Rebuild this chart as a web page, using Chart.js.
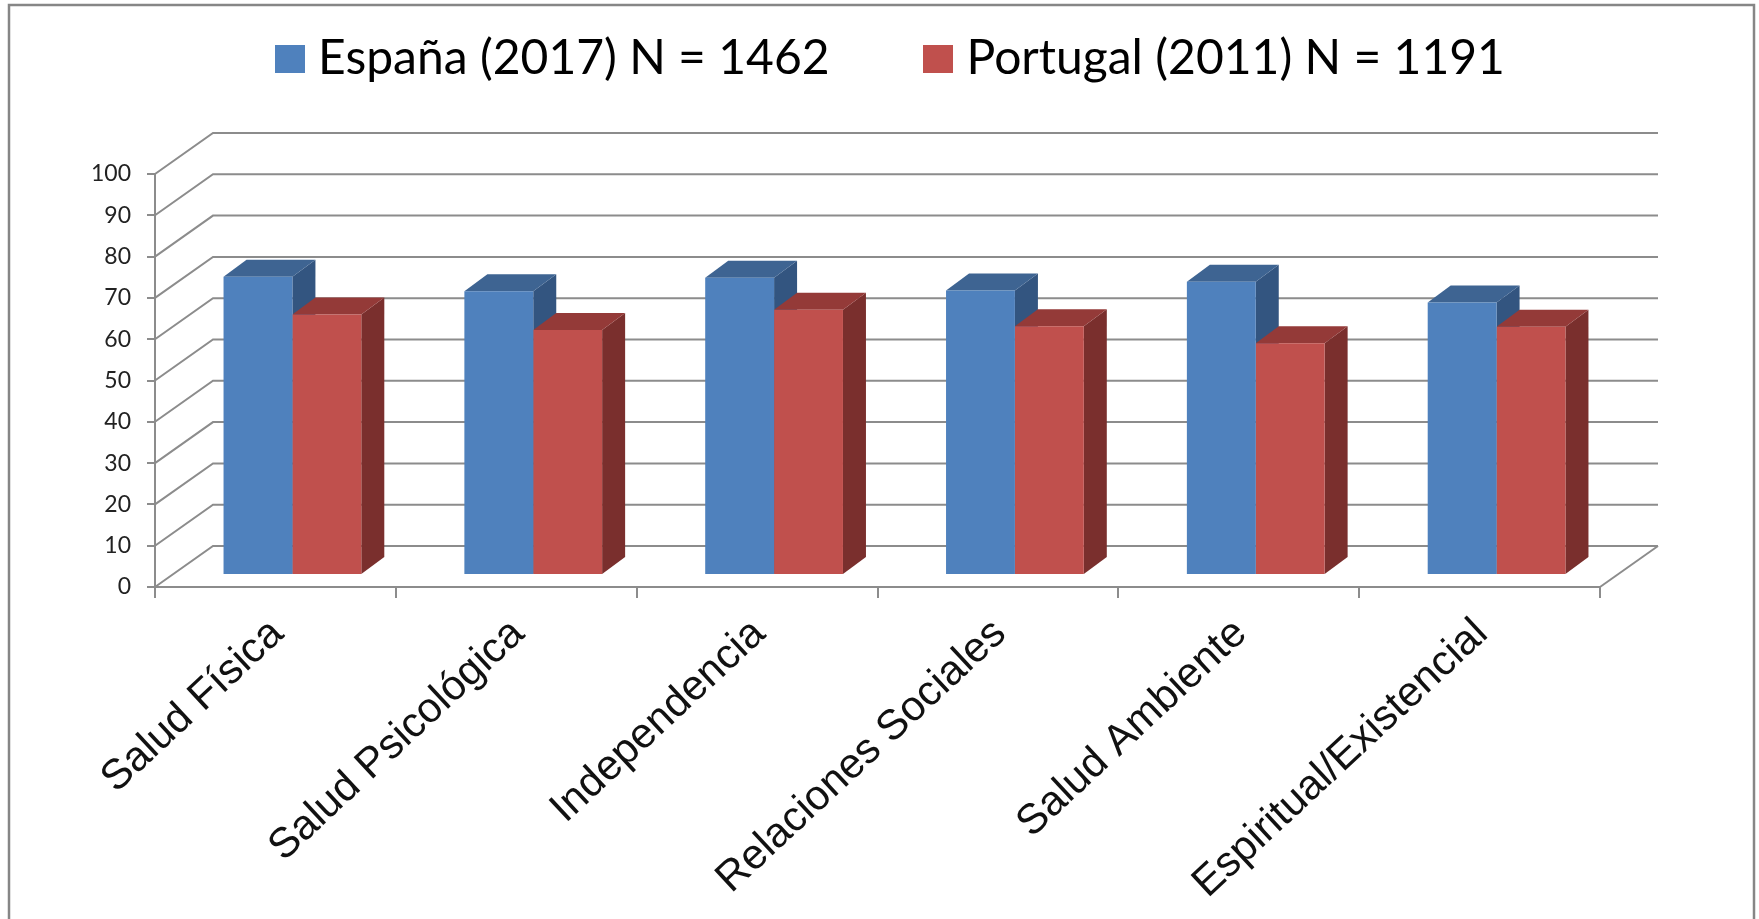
<!DOCTYPE html>
<html>
<head>
<meta charset="utf-8">
<script src="https://cdn.jsdelivr.net/npm/chart.js@4"></script>
<style>
html,body{margin:0;padding:0;background:#fff;overflow:hidden}
canvas{display:block;filter:blur(0.5px)}
</style>
</head>
<body>
<canvas id="c" width="1759" height="919"></canvas>
<script>
const categories = ["Salud Física","Salud Psicológica","Independencia","Relaciones Sociales","Salud Ambiente","Espiritual/Existencial"];
const espana = [72.2,68.7,72,68.9,71,66];
const portugal = [63.1,59.3,64.2,60.2,56.1,60.1];
const seriesNames = ["España (2017) N = 1462","Portugal (2011) N = 1191"];
const colors = ["#4f81bd","#c0504d"];
const yMin = 0, yMax = 100, yStep = 10;

const GRID = "#8c8c8c";
const WALL = {dx:58, dy:-41};
const FRONT = {dx:17, dy:-12};
const DEPTH = {dx:23, dy:-17};
const SHADE = [{top:"#3e6492",side:"#335580"},{top:"#943a38",side:"#7a2f2d"}];

const swatches = colors.map(c=>{
  const s = document.createElement("canvas");
  s.width = 30; s.height = 28;
  const g = s.getContext("2d");
  g.fillStyle = c; g.fillRect(0,0,30,28);
  return s;
});

const box3d = {
  id:"box3d",
  beforeDatasetsDraw(chart){
    const {ctx, scales:{x,y}} = chart;
    ctx.save();
    ctx.strokeStyle = GRID; ctx.lineWidth = 2;
    const l = x.left, r = x.right;
    y.ticks.forEach(t=>{
      const p = y.getPixelForValue(t.value);
      ctx.beginPath();
      ctx.moveTo(l,p);
      ctx.lineTo(l+WALL.dx,p+WALL.dy);
      ctx.lineTo(r+WALL.dx,p+WALL.dy);
      ctx.stroke();
    });
    const b = y.getPixelForValue(yMin);
    ctx.beginPath();
    ctx.moveTo(r,b); ctx.lineTo(r+WALL.dx,b+WALL.dy); ctx.stroke();
    chart.data.datasets.forEach((ds,i)=>{
      chart.getDatasetMeta(i).data.forEach(bar=>{
        const {x:cx,y:top,base,width} = bar.getProps(["x","y","base","width"],true);
        const x0 = cx-width/2+FRONT.dx, x1 = cx+width/2+FRONT.dx;
        const t = top+FRONT.dy, f = base+FRONT.dy;
        ctx.fillStyle = SHADE[i].side;
        ctx.beginPath();
        ctx.moveTo(x1,t); ctx.lineTo(x1+DEPTH.dx,t+DEPTH.dy);
        ctx.lineTo(x1+DEPTH.dx,f+DEPTH.dy); ctx.lineTo(x1,f);
        ctx.closePath(); ctx.fill();
        ctx.fillStyle = SHADE[i].top;
        ctx.beginPath();
        ctx.moveTo(x0,t); ctx.lineTo(x0+DEPTH.dx,t+DEPTH.dy);
        ctx.lineTo(x1+DEPTH.dx,t+DEPTH.dy); ctx.lineTo(x1,t);
        ctx.closePath(); ctx.fill();
      });
    });
    ctx.restore();
    ctx.save();
    ctx.translate(FRONT.dx,FRONT.dy);
  },
  afterDatasetsDraw(chart){ chart.ctx.restore(); },
  afterDraw(chart){
    const ctx = chart.ctx;
    ctx.save();
    ctx.strokeStyle = "#868686"; ctx.lineWidth = 2.5;
    ctx.strokeRect(9,5,1745,1000);
    ctx.restore();
  }
};

new Chart(document.getElementById("c"),{
  type:"bar",
  data:{
    labels:categories,
    datasets:[
      {label:seriesNames[0],data:espana,backgroundColor:colors[0],borderWidth:0,clip:false},
      {label:seriesNames[1],data:portugal,backgroundColor:colors[1],borderWidth:0,clip:false}
    ]
  },
  options:{
    responsive:false,
    animation:false,
    events:[],
    layout:{padding:{left:31,right:0,top:-69,bottom:0}},
    datasets:{bar:{categoryPercentage:0.572,barPercentage:1}},
    plugins:{
      tooltip:{enabled:false},
      legend:{
        position:"top",
        labels:{
          usePointStyle:true,pointStyleWidth:9,padding:104,color:"#000",
          font:{family:"Lato",size:48},
          generateLabels(chart){
            const items = Chart.defaults.plugins.legend.labels.generateLabels(chart);
            items.forEach((it,i)=>{it.pointStyle = swatches[i];});
            return items;
          }
        }
      }
    },
    scales:{
      x:{
        type:"category",
        afterFit(s){s.height=332;},
        grid:{offset:true,drawOnChartArea:false,color:GRID,lineWidth:2,tickLength:11},
        border:{color:GRID,width:2},
        ticks:{minRotation:43,maxRotation:43,autoSkip:false,padding:11,labelOffset:2,color:"#111",font:{family:"Liberation Sans",size:42}}
      },
      y:{
        min:yMin,max:yMax,
        afterFit(s){s.width=124;},
        grid:{drawOnChartArea:false,color:GRID,lineWidth:2,tickLength:8},
        border:{color:GRID,width:2},
        ticks:{stepSize:yStep,padding:16,color:"#222",font:{family:"Lato",size:23}}
      },
      padRight:{
        position:"right",display:true,min:yMin,max:yMax,
        afterFit(s){s.width=159;},
        grid:{display:false},border:{display:false},
        ticks:{display:false}
      },
      padTop:{
        axis:"x",position:"top",display:true,min:yMin,max:yMax,
        afterFit(s){s.height=81;},
        grid:{display:false},border:{display:false},
        ticks:{display:false}
      }
    }
  },
  plugins:[box3d]
});
</script>
</body>
</html>
